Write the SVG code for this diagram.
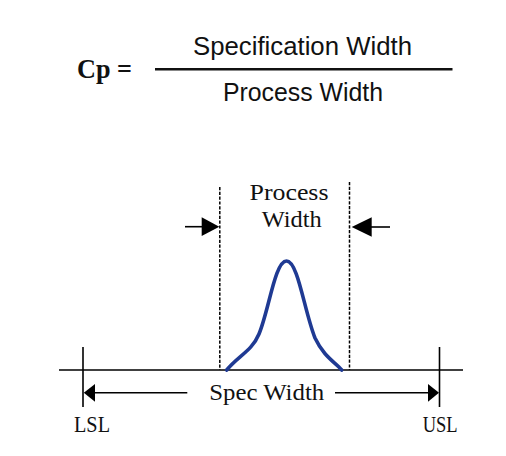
<svg xmlns="http://www.w3.org/2000/svg" width="506" height="456" viewBox="0 0 506 456">
<style>
.sans{font-family:"Liberation Sans",Arial,sans-serif;font-size:25px;fill:#111}
.serif{font-family:"Liberation Serif","Times New Roman",serif;font-size:24px;fill:#111}
.ln{stroke:#000;stroke-width:1.6;fill:none}
.dash{stroke:#000;stroke-width:1.5;stroke-dasharray:3.2 1.6;fill:none}
.head{fill:#000}
</style>
<rect width="506" height="456" fill="#fff"/>
<g id="formula">
<text x="77" y="78" font-family="'Liberation Serif','Times New Roman',serif" font-weight="bold" font-size="27" fill="#111" textLength="55" lengthAdjust="spacingAndGlyphs">Cp =</text>
<line x1="155" y1="69.3" x2="452.5" y2="69.3" stroke="#111" stroke-width="2.4"/>
<text class="sans" x="302.5" y="55" text-anchor="middle" textLength="219" lengthAdjust="spacingAndGlyphs">Specification Width</text>
<text class="sans" x="303" y="101" text-anchor="middle" textLength="160" lengthAdjust="spacingAndGlyphs">Process Width</text>
</g>
<g id="connectors">
<line class="ln" x1="59" y1="370" x2="463" y2="370"/>
<line class="ln" x1="83" y1="347" x2="83" y2="407"/>
<line class="ln" x1="439.5" y1="347" x2="439.5" y2="407"/>
<line class="dash" x1="219.8" y1="187" x2="219.8" y2="370"/>
<line class="dash" x1="349.5" y1="182" x2="349.5" y2="370"/>
<line class="ln" x1="185" y1="226.7" x2="203" y2="226.7"/>
<polygon class="head" points="201.7,217.3 219.3,226.7 201.7,236"/>
<line class="ln" x1="370" y1="227" x2="390" y2="227"/>
<polygon class="head" points="371.7,217.3 351.7,227 371.7,236.7"/>
<line class="ln" x1="94" y1="392.7" x2="187.3" y2="392.7"/>
<polygon class="head" points="95,384 83.8,392.7 95,401.7"/>
<line class="ln" x1="335" y1="392.7" x2="429" y2="392.7"/>
<polygon class="head" points="428,384 439,392.7 428,401.7"/>
</g>
<g id="curve">
<path d="M226.7,370 C238,356 252,351 259,334 C269,310 275,261 286.5,261 C298,261 304,310 315,338 C324,357 335,362 341.7,370" fill="none" stroke="#1f3a93" stroke-width="3.6" stroke-linecap="round"/>
</g>
<g id="labels">
<text class="serif" x="289" y="200" text-anchor="middle" textLength="79" lengthAdjust="spacingAndGlyphs">Process</text>
<text class="serif" x="291.7" y="226.7" text-anchor="middle" textLength="60" lengthAdjust="spacingAndGlyphs">Width</text>
<text class="serif" x="266.7" y="400" text-anchor="middle" textLength="115" lengthAdjust="spacingAndGlyphs">Spec Width</text>
<text class="serif" x="74" y="431.7" font-size="23" textLength="36" lengthAdjust="spacingAndGlyphs">LSL</text>
<text class="serif" x="422.7" y="431.7" font-size="23" textLength="35" lengthAdjust="spacingAndGlyphs">USL</text>
</g>
</svg>
